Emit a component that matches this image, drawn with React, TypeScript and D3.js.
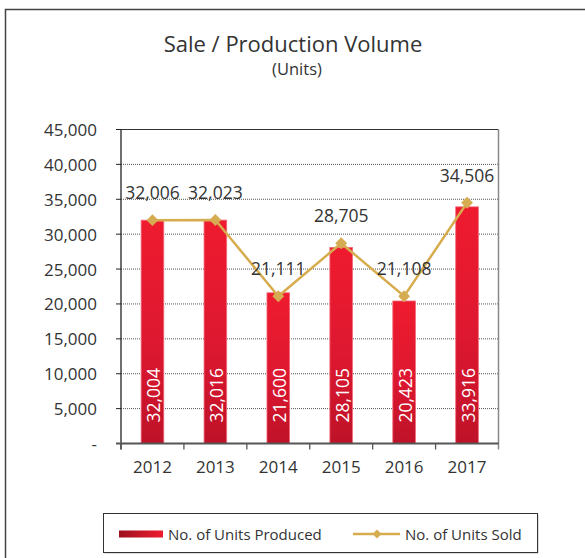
import React from "react";
import * as d3 from "d3";

const years = ["2012", "2013", "2014", "2015", "2016", "2017"];
const produced = [32004, 32016, 21600, 28105, 20423, 33916];
const sold = [32006, 32023, 21111, 28705, 21108, 34506];
const yTicks = [0, 5000, 10000, 15000, 20000, 25000, 30000, 35000, 40000, 45000];

const W = 585;
const H = 558;
const FONT = "'Open Sans', 'Noto Sans', sans-serif";
const TXT = "#333";

export default function App() {
  const left = 121;
  const right = 498.5;
  const top = 129.5;
  const bottom = 443.5;

  const x = d3.scaleBand<string>().domain(years).range([left, right]).paddingInner(0.64).paddingOuter(0.32);
  const xb = d3.scaleBand<string>().domain(years).range([left, right]);
  const y = d3.scaleLinear().domain([0, 45000]).range([bottom, top]);
  const fmt = d3.format(",");

  const lineGen = d3
    .line<number>()
    .x((_, i) => (xb(years[i]) as number) + xb.bandwidth() / 2)
    .y((d) => y(d));

  const diamond = d3.symbol().type(d3.symbolDiamond2).size(90)();

  return (
    <svg width={W} height={H} style={{ position: "absolute", left: 0, top: 0 }} fontFamily={FONT}>
      <defs>
        <linearGradient id="barGrad" x1="0" y1="0" x2="0" y2="1">
          <stop offset="0%" stopColor="#EF1B2F" />
          <stop offset="55%" stopColor="#DD1830" />
          <stop offset="100%" stopColor="#BE1228" />
        </linearGradient>
        <linearGradient id="legGrad" x1="0" y1="0" x2="1" y2="0">
          <stop offset="0%" stopColor="#9C1020" />
          <stop offset="100%" stopColor="#EE1C2E" />
        </linearGradient>
      </defs>
      <rect x={0} y={0} width={W} height={H} fill="#fff" />
      {/* outer border */}
      <rect x={5.5} y={9.5} width={W + 10} height={H + 10} fill="none" stroke="#444" strokeWidth={1.5} />

      {/* title */}
      <text x={293} y={52} textAnchor="middle" fontSize={22} fill={TXT}>
        Sale / Production Volume
      </text>
      <text x={297} y={75} textAnchor="middle" fontSize={16.5} fill={TXT}>
        (Units)
      </text>

      {/* gridlines */}
      {yTicks.slice(1, -1).map((t) => (
        <line key={t} x1={left} x2={right} y1={y(t)} y2={y(t)} stroke="#555" strokeWidth={1} strokeDasharray="1,1" />
      ))}
      {/* plot top & right borders */}
      <line x1={left} x2={right} y1={top} y2={top} stroke="#333" strokeWidth={1.2} />
      <line x1={right} x2={right} y1={top} y2={bottom + 6} stroke="#888" strokeWidth={1.5} />

      {/* bars */}
      {produced.map((v, i) => (
        <rect
          key={years[i]}
          x={x(years[i])}
          y={y(v)}
          width={x.bandwidth()}
          height={bottom - y(v)}
          fill="url(#barGrad)"
          stroke="#F26A7A"
          strokeWidth={0.8}
        />
      ))}
      {/* bar labels */}
      {produced.map((v, i) => {
        const cx = (xb(years[i]) as number) + xb.bandwidth() / 2;
        const ty = bottom - 21;
        return (
          <text
            key={"bl" + i}
            transform={`translate(${cx + 1},${ty}) rotate(-90)`}
            textAnchor="start"
            dominantBaseline="central"
            fontSize={17.5}
            fill="#fff"
          >
            {fmt(v)}
          </text>
        );
      })}

      {/* left axis */}
      <line x1={left} x2={left} y1={top} y2={bottom + 6} stroke="#222" strokeWidth={1.3} />
      {yTicks.map((t) => (
        <g key={"yt" + t}>
          <line x1={left - 5} x2={left} y1={y(t)} y2={y(t)} stroke="#222" strokeWidth={1} />
          <text x={97} y={y(t)} textAnchor="end" dominantBaseline="central" fontSize={17} fill={TXT}>
            {t === 0 ? "-" : fmt(t)}
          </text>
        </g>
      ))}
      {/* baseline */}
      <line x1={left - 5} x2={right} y1={bottom} y2={bottom} stroke="#555" strokeWidth={2} />
      {years.map((yr, i) => (
        <line
          key={"xt" + i}
          x1={(xb(yr) as number) + (i === 0 ? 0 : 0)}
          x2={xb(yr) as number}
          y1={bottom}
          y2={bottom + 6}
          stroke="#555"
          strokeWidth={1.3}
        />
      ))}
      {years.map((yr) => (
        <text
          key={"xl" + yr}
          x={(xb(yr) as number) + xb.bandwidth() / 2}
          y={473}
          textAnchor="middle"
          fontSize={17}
          fill={TXT}
        >
          {yr}
        </text>
      ))}

      {/* line */}
      <path d={lineGen(sold) || ""} fill="none" stroke="#D7AC4E" strokeWidth={2.5} />
      {sold.map((v, i) => {
        const cx = (xb(years[i]) as number) + xb.bandwidth() / 2;
        return <path key={"m" + i} d={diamond || ""} transform={`translate(${cx},${y(v)})`} fill="#D6AC52" />;
      })}
      {sold.map((v, i) => {
        const cx = (xb(years[i]) as number) + xb.bandwidth() / 2;
        return (
          <text key={"sl" + i} x={cx} y={y(v) - 21} textAnchor="middle" fontSize={17.5} fill={TXT}>
            {fmt(v)}
          </text>
        );
      })}

      {/* legend */}
      <rect x={104.5} y={514.5} width={434} height={39} fill="#bbb" />
      <rect x={103.5} y={513.5} width={434} height={39} fill="#fff" stroke="#333" strokeWidth={1} />
      <rect x={119} y={530.5} width={44} height={7} fill="url(#legGrad)" />
      <text x={168} y={534} dominantBaseline="central" fontSize={15} fill={TXT}>
        No. of Units Produced
      </text>
      <line x1={353} x2={400} y1={534} y2={534} stroke="#D7AC4E" strokeWidth={2.5} />
      <path d={d3.symbol().type(d3.symbolDiamond2).size(50)() || ""} transform="translate(377,534)" fill="#D6AC52" />
      <text x={405} y={534} dominantBaseline="central" fontSize={15} fill={TXT}>
        No. of Units Sold
      </text>
    </svg>
  );
}
